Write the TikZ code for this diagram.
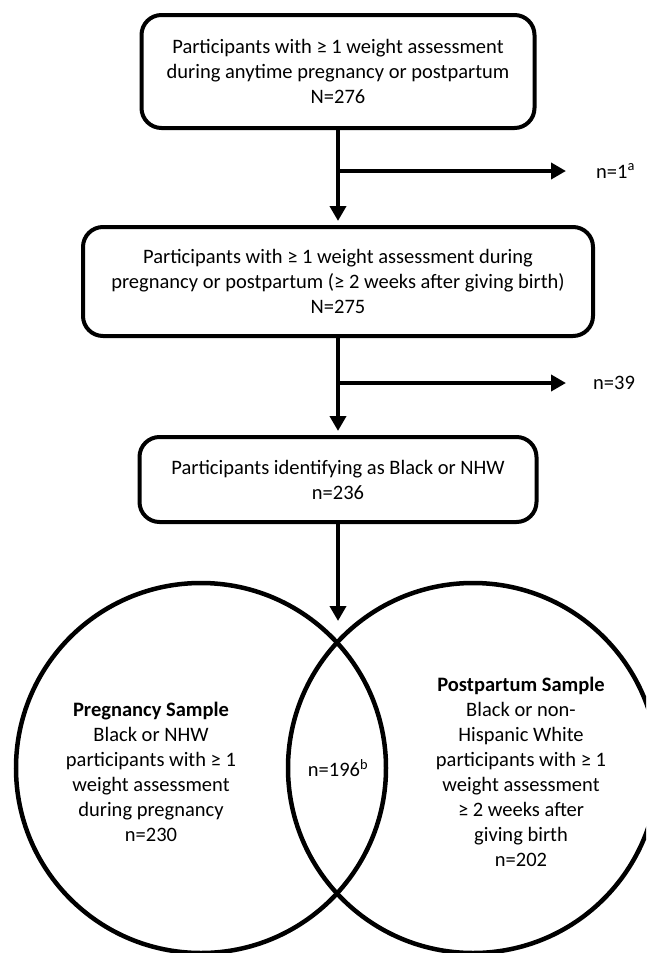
\documentclass[tikz,border=0pt]{standalone}
\usepackage{fontspec}
\setmainfont{Carlito}
\usetikzlibrary{arrows.meta}
\begin{document}
\begin{tikzpicture}[x=1pt,y=-1pt,
  txt/.style={font=\fontsize{20.5}{25}\selectfont, align=center, inner sep=0pt},
  flowbox/.style={txt, draw, line width=4pt, rounded corners=20pt, minimum height=#1},
  arr/.style={line width=4pt, -{Triangle[length=15pt,width=16pt]}, shorten >=4pt},
  brarr/.style={line width=4pt, -{Triangle[length=15pt,width=16pt]}},
  venn/.style={draw, circle, line width=4.5pt, minimum size=370pt, inner sep=0pt}]
\useasboundingbox (0,0) rectangle (646,953);
\fill[white] (0,0) rectangle (646,953);

\node[flowbox=113pt, minimum width=393pt] (b1) at (338,71.5)
  {Participants with ≥ 1 weight assessment\\during anytime pregnancy or postpartum\\N=276};
\node[flowbox=109pt, minimum width=510pt] (b2) at (338,281.5)
  {Participants with ≥ 1 weight assessment during\\pregnancy or postpartum (≥ 2 weeks after giving birth)\\N=275};
\node[flowbox=85pt, minimum width=397pt] (b3) at (338,479.5)
  {Participants identifying as Black or NHW\\n=236};

\coordinate (e1) at (566,171);
\coordinate (e2) at (566,383);
\node[txt, anchor=west] (n1) at (596,171) {n=1\textsuperscript{a}};
\node[txt, anchor=west] (n2) at (593,383) {n=39};

\draw[arr] (b1.south) -- (b2.north);
\draw[brarr] (b1.south |- e1) -- (e1);
\draw[arr] (b2.south) -- (b3.north);
\draw[brarr] (b2.south |- e2) -- (e2);

\coordinate (vt) at (338,621);
\draw[brarr] (b3.south) -- (vt);

\begin{scope}
\clip (0,0) rectangle (646,953);
\node[venn] (lc) at (201,768) {};
\node[venn] (rc) at (473,768) {};
\end{scope}

\node[txt] (lt) at (151,771.5)
  {\textbf{Pregnancy Sample}\\Black or NHW\\participants with ≥ 1\\weight assessment\\during pregnancy\\n=230};
\node[txt] (mt) at (338,768) {n=196\textsuperscript{b}};
\node[txt] (rt) at (521,771.5)
  {\textbf{Postpartum Sample}\\Black or non-\\Hispanic White\\participants with ≥ 1\\weight assessment\\≥ 2 weeks after\\giving birth\\n=202};
\end{tikzpicture}
\end{document}
